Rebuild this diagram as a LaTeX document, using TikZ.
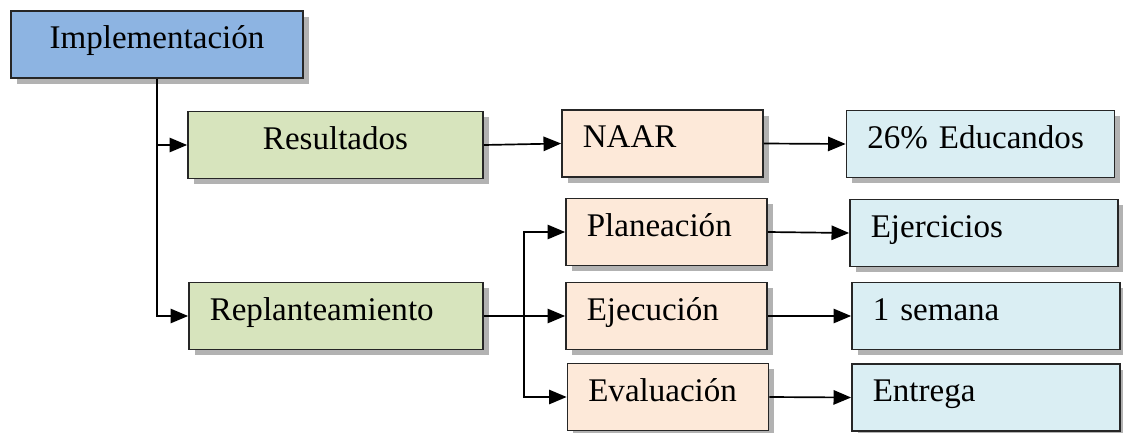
\documentclass[tikz,border=0pt]{standalone}
\usepackage{fontspec}
\setmainfont{Liberation Serif}
\usetikzlibrary{arrows.meta,shadows}
\definecolor{implblue}{HTML}{8DB4E2}
\definecolor{resgreen}{HTML}{D7E4BD}
\definecolor{midpeach}{HTML}{FDE9D9}
\definecolor{endblue}{HTML}{DAEEF3}
\tikzset{
  box/.style={draw=black!85, line width=1.2pt, minimum height=1.675cm, inner ysep=0pt,
    text height=0.52cm, text depth=0.3cm, font=\fontsize{23.5}{28}\selectfont,
    drop shadow={shadow xshift=0.14cm, shadow yshift=-0.14cm, fill=black, opacity=0.3}},
  cbox/.style={box, align=center, minimum width=#1},
  lbox/.style={box, align=left, inner xsep=0.52cm, text width=#1},
  conn/.style={line width=1.2pt, -{Triangle[length=0.44cm,width=0.36cm]}},
}
\begin{document}
\begin{tikzpicture}[x=0.025cm,y=-0.025cm]
\useasboundingbox (0,0) rectangle (1123,433);
\node[cbox=7.3cm, fill=implblue] (impl) at (157,44.5) {Implementación};
\node[cbox=7.375cm, fill=resgreen] (res) at (335.5,145) {Resultados};
\node[lbox=6.31cm, fill=resgreen] (rep) at (336,316) {Replanteamiento};
\foreach \n/\x/\y/\t in {naar/662.5/143.5/NAAR,plan/666.5/232/Planeación,ejec/666.5/316/Ejecución,eval/668/397/Evaluación}
{
\node[lbox=3.985cm, fill=midpeach] (\n) at (\x,\y) {\t};
}
\foreach \n/\x/\y/\t in {edu/980.5/144/26\% Educandos,ejer/984/233/Ejercicios,sem/986/316/1 semana,ent/986/397.5/Entrega}
{
\node[lbox=5.66cm, fill=endblue] (\n) at (\x,\y) {\t};
}
\draw[conn] (impl.south) |- (res.west);
\draw[conn] (impl.south) |- (rep.west);
\draw[conn] (res.east) -- (naar.west);
\draw[line width=1.2pt] (rep.east) -- (524,316) coordinate (br);
\foreach \a/\b in {plan/ejer,ejec/sem,eval/ent}
{
\draw[conn] (br) |- (\a.west);
\draw[conn] (\a.east) -- (\b.west);
}
\draw[conn] (naar.east) -- (edu.west);
\end{tikzpicture}
\end{document}
